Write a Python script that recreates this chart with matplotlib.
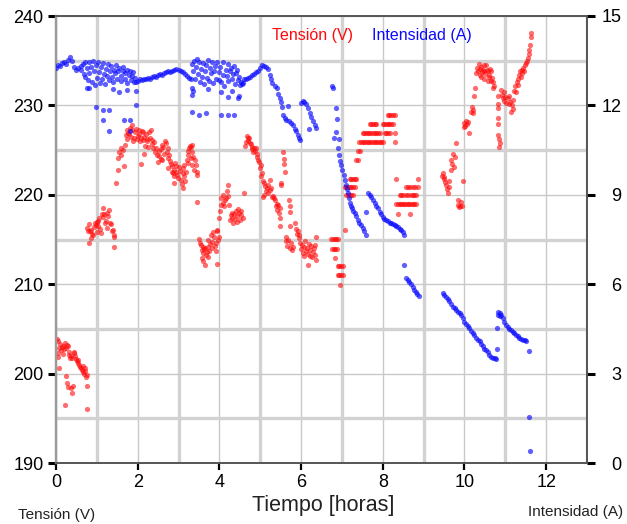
import matplotlib
matplotlib.use("Agg")
import matplotlib.pyplot as plt
from matplotlib.ticker import MultipleLocator

plt.rcParams["font.family"] = ["Liberation Sans", "DejaVu Sans"]

# ---- Tensión (V) vs tiempo (h) ----
tension_t = [
    0.02, 0.04, 0.06, 0.08, 0.10, 0.12, 0.14, 0.16, 0.18, 0.20, 0.22, 0.24, 0.27, 0.29, 0.31, 0.33,
    0.35, 0.37, 0.40, 0.43, 0.45, 0.47, 0.49, 0.51, 0.53, 0.55, 0.57, 0.59, 0.61, 0.63, 0.65, 0.67,
    0.69, 0.71, 0.72, 0.73, 0.75, 0.77, 0.07, 0.05, 0.24, 0.26, 0.29, 0.37, 0.39, 0.41, 0.23, 0.75,
    0.77, 0.79, 0.81, 0.83, 0.86, 0.88, 0.81, 0.90, 0.92, 0.95, 0.98, 1.00, 1.02, 1.04, 1.06, 1.08,
    1.10, 1.12, 1.14, 1.16, 1.18, 1.20, 1.22, 1.24, 1.26, 1.28, 1.30, 1.32, 1.34, 1.36, 1.39, 1.41,
    1.43, 1.43, 0.85, 1.00,
    1.47, 1.51, 1.51, 1.55, 1.59, 1.59, 1.63, 1.67, 1.69, 1.71, 1.73, 1.75, 1.77, 1.79, 1.81, 1.83,
    1.85, 1.87, 1.89, 1.92, 1.94, 1.96, 1.98, 2.00, 2.02, 2.04, 2.06, 2.08, 2.08, 2.10, 2.12, 2.14,
    2.16, 2.16, 2.18, 2.20, 2.22, 2.24, 2.26, 2.28, 2.30, 2.32, 2.34, 2.36, 2.38, 2.40, 2.43,
    2.45, 2.47, 2.49, 2.51, 2.53, 2.56, 2.58, 2.60, 2.60, 2.63, 2.65, 2.67, 2.69, 2.71, 2.73, 2.73,
    2.75, 2.77, 2.79, 2.81, 2.83, 2.85, 2.87, 2.89, 2.89, 2.89, 2.91, 2.93, 2.95, 2.97, 2.99, 3.02,
    3.04, 3.06, 3.08, 3.10, 3.10, 3.12, 3.14, 3.14, 3.16, 3.18, 3.20, 3.22, 3.22, 3.24, 3.26, 3.28,
    3.30, 3.30, 3.32, 3.34, 3.34, 3.36, 3.38, 3.40, 3.42, 3.44, 3.46, 3.46,
    3.50, 3.52, 3.55, 3.57, 3.59, 3.61, 3.63, 3.65, 3.67, 3.69, 3.71, 3.71, 3.73, 3.75, 3.77, 3.79,
    3.81, 3.83, 3.85, 3.87, 3.89, 3.91, 3.91, 3.93, 3.95, 3.95, 3.97, 3.99, 3.99, 4.01, 4.03, 4.05,
    4.08, 4.10, 4.12, 4.14, 4.16, 4.18, 4.20, 4.22, 4.24, 3.57, 3.61, 3.65,
    4.26, 4.28, 4.30, 4.32, 4.34, 4.36, 4.38, 4.40, 4.42, 4.44, 4.46, 4.48, 4.50, 4.52, 4.54, 4.57,
    4.60,
    4.63, 4.65, 4.67, 4.69, 4.71, 4.73, 4.75, 4.77, 4.79, 4.81, 4.83, 4.85, 4.87, 4.89, 4.91, 4.93,
    4.95, 4.97, 4.99, 5.01, 5.03, 5.05, 5.07, 5.07, 5.09, 5.10, 5.12, 5.15, 5.17, 5.18, 5.20, 5.23,
    5.25, 5.27, 5.29, 5.31,
    5.34, 5.36, 5.38, 5.40, 5.42, 5.44, 5.46, 5.48, 5.48, 5.48, 5.52, 5.52, 5.56, 5.57, 5.58, 5.60,
    5.62, 5.64, 5.66, 5.68, 5.70, 5.72, 5.72, 5.72, 5.74, 5.76, 5.78, 5.80, 5.86, 5.88, 5.90, 5.92,
    5.94, 5.96,
    5.98, 6.00, 6.02, 6.04, 6.06, 6.08, 6.10, 6.12, 6.14, 6.17, 6.17, 6.19, 6.21, 6.23, 6.25, 6.27,
    6.29, 6.31, 6.33, 6.35, 6.37, 6.37,
    6.74, 6.78, 6.82, 6.86, 6.90, 6.76, 6.80, 6.84, 6.88, 6.82, 6.90, 6.94, 6.98, 7.02, 6.90, 6.94,
    6.98, 7.02, 6.96, 7.07,
    7.11, 7.15, 7.19, 7.23, 7.27,
    7.07, 7.11, 7.15, 7.19, 7.23, 7.27, 7.31,
    7.19, 7.23, 7.27, 7.31, 7.35,
    7.35, 7.39, 7.39, 7.45,
    7.43, 7.47, 7.51, 7.55, 7.59, 7.63, 7.67, 7.71, 7.75, 7.80, 7.84, 7.88, 7.92, 7.96, 8.00, 8.29,
    7.51, 7.55, 7.59, 7.63, 7.67, 7.71, 7.75, 7.80, 7.84, 7.88, 7.92, 8.05, 8.09, 8.13, 8.17, 8.29,
    7.68, 7.72, 7.76, 7.80, 7.84, 8.00, 8.04, 8.08, 8.12, 8.16, 8.21, 8.25,
    8.12, 8.16, 8.21, 8.25, 8.29,
    8.37, 8.66,
    8.33, 8.37, 8.41, 8.45, 8.49, 8.53, 8.57, 8.61, 8.65, 8.69, 8.73, 8.77, 8.82,
    8.41, 8.45, 8.49, 8.57, 8.61, 8.69, 8.73, 8.77, 8.82,
    8.57, 8.61, 8.66, 8.74, 8.78, 8.86,
    8.33, 8.86,
    9.45, 9.47, 9.49, 9.51, 9.53, 9.55, 9.57, 9.59, 9.61, 9.63, 9.66, 9.68, 9.70, 9.72, 9.74, 9.76,
    9.80, 9.83, 9.85, 9.87, 9.89, 9.91, 9.93, 9.96,
    9.98, 10.00, 10.02, 10.04, 10.06, 10.08, 10.12, 10.16, 10.18, 10.20, 10.22, 10.24, 10.26, 10.29,
    10.31, 10.33, 10.35, 10.37, 10.39, 10.41, 10.41, 10.43, 10.45, 10.47, 10.49, 10.49, 10.51, 10.53,
    10.55, 10.57, 10.57, 10.59, 10.61, 10.63, 10.65, 10.65, 10.67, 10.69, 10.71, 10.73,
    10.81, 10.83, 10.81, 10.81, 10.83, 10.83, 10.84, 10.85, 10.87, 10.90, 10.92, 10.94, 10.96, 10.98,
    11.00, 11.02, 11.06, 11.08, 11.10, 11.12, 11.14, 11.16, 11.18, 11.20, 11.22, 11.24, 11.26, 11.28,
    11.30, 11.32, 11.34, 11.36, 11.38, 11.40, 11.42, 11.44, 11.46, 11.48, 11.51, 11.53, 11.55, 11.57,
    11.59, 11.60, 11.62, 11.63,
]
tension_v = [
    203.9, 203.6, 202.3, 202.9, 203.3, 202.6, 203.0, 203.1, 202.2, 202.7, 203.4, 202.9, 203.2, 203.1, 202.1, 202.4,
    201.8, 202.0, 201.7, 202.3, 202.4, 202.0, 201.6, 201.4, 201.2, 201.5, 201.0, 200.7, 200.6, 200.4, 200.2, 200.9,
    199.9, 200.3, 200.6, 199.6, 199.8, 198.6, 200.6, 201.9, 199.7, 198.9, 198.5, 198.4, 197.8, 198.6, 196.5, 196.0,
    216.3, 215.9, 216.7, 216.0, 216.1, 215.6, 214.6, 215.5, 216.4, 216.9, 216.6, 217.0, 217.1, 216.5, 217.4, 216.2,
    215.7, 217.9, 218.5, 217.5, 217.8, 216.8, 217.1, 218.0, 216.3, 217.6, 218.3, 216.9, 216.7, 215.9, 216.1, 215.3,
    215.5, 214.2, 215.2, 215.8,
    221.3, 222.8, 224.1, 224.8, 224.5, 225.2, 225.0, 223.2, 225.6, 226.7, 226.2, 227.2, 226.9, 226.8, 227.5, 226.5,
    227.8, 227.2, 226.0, 226.3, 227.0, 227.4, 226.2, 226.6, 227.3, 226.8, 226.0, 226.3, 223.5, 227.1, 227.0, 226.1,
    226.5, 224.6, 225.5, 226.8, 226.2, 226.0, 225.4, 227.0, 226.4, 227.2, 225.7, 226.1, 225.2, 225.9, 224.8,
    225.2, 224.4, 223.7, 224.9, 224.3, 225.1, 224.0, 225.6, 223.9, 225.3, 224.6, 226.0, 225.8, 224.8, 225.2, 224.1,
    223.0, 224.5, 223.8, 223.5, 222.6, 223.2, 222.4, 222.8, 222.1, 221.3, 223.6, 223.2, 222.5, 222.2, 221.9, 223.1,
    222.7, 221.7, 221.2, 223.0, 220.8, 222.4, 223.3, 222.1, 221.5, 222.6, 223.9, 224.5, 223.6, 224.9, 225.2, 225.5,
    225.4, 224.1, 224.8, 225.6, 223.3, 224.2, 222.8, 223.9, 223.3, 222.2, 222.6, 219.2,
    215.1, 214.6, 214.4, 213.8, 214.2, 213.5, 213.9, 214.1, 213.3, 213.6, 213.0, 214.9, 214.2, 213.7, 214.5, 215.5,
    214.0, 214.7, 215.8, 215.3, 214.3, 214.6, 213.7, 215.9, 216.1, 212.3, 215.0, 215.3, 217.4, 218.2, 218.9, 219.6,
    220.0, 219.1, 218.7, 219.4, 219.6, 220.4, 221.1, 219.9, 218.9, 212.9, 212.6, 212.2,
    217.2, 217.7, 218.0, 217.4, 216.9, 217.8, 217.3, 218.2, 217.0, 217.6, 218.4, 218.0, 217.2, 218.2, 217.7, 217.4,
    220.2,
    225.5, 225.9, 226.6, 226.4, 226.0, 226.3, 225.8, 225.7, 225.1, 225.4, 224.8, 225.2, 224.9, 225.2, 224.2, 224.6,
    223.9, 223.7, 223.0, 223.3, 222.1, 222.4, 221.5, 219.8, 221.3, 220.0, 221.0, 220.4, 220.8, 221.1, 220.2, 221.7,
    220.5, 220.8, 219.7, 219.9,
    219.6, 219.4, 218.7, 218.3, 219.0, 218.9, 218.0, 218.5, 217.4, 216.5, 221.1, 221.3, 224.8, 224.0, 223.5, 222.6,
    215.3, 214.8, 214.3, 215.0, 219.4, 218.8, 218.1, 216.5, 214.0, 214.6, 213.8, 214.2, 216.8, 216.2, 215.6, 215.9,
    215.2, 215.5,
    214.6, 213.9, 214.4, 213.5, 214.2, 213.1, 214.8, 213.7, 214.0, 212.1, 213.4, 214.5, 213.2, 213.8, 214.3, 213.0,
    213.6, 214.1, 214.4, 213.3, 215.3, 212.7,
    215.1, 215.1, 215.1, 215.1, 215.1, 213.9, 213.9, 213.9, 213.9, 212.9, 212.0, 212.0, 212.0, 212.0, 211.0, 211.0,
    211.0, 211.0, 209.9, 216.1,
    220.0, 220.0, 220.0, 220.0, 220.0,
    220.9, 220.9, 220.9, 220.9, 220.9, 220.9, 220.9,
    221.8, 221.8, 221.8, 221.8, 221.8,
    223.9, 223.9, 224.9, 224.9,
    225.9, 225.9, 225.9, 225.9, 225.9, 225.9, 225.9, 225.9, 225.9, 225.9, 225.9, 225.9, 225.9, 225.9, 225.9, 225.9,
    226.9, 226.9, 226.9, 226.9, 226.9, 226.9, 226.9, 226.9, 226.9, 226.9, 226.9, 226.9, 226.9, 226.9, 226.9, 226.9,
    227.9, 227.9, 227.9, 227.9, 227.9, 227.9, 227.9, 227.9, 227.9, 227.9, 227.9, 227.9,
    228.9, 228.9, 228.9, 228.9, 228.9,
    217.9, 217.9,
    219.0, 219.0, 219.0, 219.0, 219.0, 219.0, 219.0, 219.0, 219.0, 219.0, 219.0, 219.0, 219.0,
    220.0, 220.0, 220.0, 220.0, 220.0, 220.0, 220.0, 220.0, 220.0,
    220.9, 220.9, 220.9, 220.9, 220.9, 220.9,
    221.8, 221.8,
    222.1, 222.4, 221.8, 222.0, 221.4, 221.1, 220.6, 220.2, 220.9, 221.5, 222.8, 223.9, 223.4, 224.6, 223.1, 224.2,
    225.8, 219.4, 218.9, 218.6, 218.8, 219.2, 218.7, 221.5,
    227.6, 228.0, 227.7, 228.3, 227.9, 228.1, 226.9, 229.3, 229.8, 229.5, 229.1, 231.0, 232.0, 233.6,
    234.2, 233.9, 234.6, 233.4, 234.1, 234.3, 233.2, 233.7, 234.0, 234.5, 233.9, 233.0, 233.5, 234.5,
    234.0, 233.9, 232.7, 233.4, 233.2, 234.1, 233.8, 232.7, 233.1, 232.0, 232.6, 232.2,
    231.0, 230.2, 229.7, 228.6, 227.9, 226.7, 226.2, 225.4, 225.8, 231.7, 231.2, 230.8, 231.5, 230.5,
    230.9, 230.3, 230.8, 230.2, 231.0, 230.4, 229.3, 230.0, 229.6, 230.6, 231.6, 232.2, 231.5, 232.6,
    233.0, 232.3, 233.4, 233.9, 233.2, 234.0, 233.6, 234.2, 233.8, 234.5, 234.7, 235.0, 235.3, 235.8,
    236.2, 236.8, 237.7, 238.1,
]

# ---- Intensidad (A) vs tiempo (h) ----
intensidad_t = [
    0.00, 0.05, 0.10, 0.15, 0.20, 0.25, 0.30, 0.35, 0.40, 0.45, 0.50, 0.55, 0.60,
    0.62, 0.65, 0.68, 0.70, 0.72, 0.75, 0.78, 0.80, 0.82, 0.85, 0.88, 0.90, 0.92, 0.95, 0.97, 1.00,
    1.02, 1.05, 1.08, 1.10, 1.12, 1.15, 1.18, 1.20, 1.22, 1.25, 1.28, 1.30, 1.33, 1.35, 1.38, 1.40,
    1.43, 1.45, 1.48, 1.50, 1.53, 1.55, 1.58, 1.60, 1.63, 1.65, 1.68, 1.70, 1.73, 1.75, 1.78, 1.80,
    1.83, 1.85, 1.88, 1.90, 1.93,
    0.98, 1.14, 1.30, 1.14, 1.30, 1.66, 1.82, 1.96, 0.75, 0.80, 1.40, 1.55, 1.75, 1.96, 1.81,
    1.95, 2.00, 2.05, 2.10, 2.15, 2.20, 2.25, 2.30, 2.35, 2.40, 2.45, 2.50, 2.55, 2.60, 2.65, 2.70,
    2.75, 2.80, 2.85, 2.90, 2.95, 3.00, 3.05, 3.10, 3.15, 3.20, 3.25, 3.30,
    3.32, 3.35, 3.38, 3.40, 3.42, 3.45, 3.48, 3.50, 3.52, 3.55, 3.58, 3.60, 3.62, 3.65, 3.68, 3.70,
    3.72, 3.75, 3.78, 3.80, 3.82, 3.85, 3.88, 3.90, 3.92, 3.95, 3.98, 4.00, 4.02, 4.05, 4.08, 4.10,
    4.12, 4.15, 4.18, 4.20, 4.22, 4.25, 4.28, 4.30, 4.33, 4.35, 4.38, 4.40, 4.42, 4.45, 4.48, 4.50,
    4.52, 4.55, 4.57,
    3.34, 3.34, 3.50, 3.67, 4.03, 4.20, 4.36, 4.20, 4.49, 4.03, 3.34, 3.36, 3.72, 4.30, 4.45,
    4.60, 4.65, 4.70, 4.75, 4.80, 4.85, 4.90, 4.95, 5.00, 5.05, 5.10, 5.15, 5.18,
    5.23, 5.27, 5.30, 5.35, 5.40, 5.44, 5.48, 5.52, 5.54, 5.56, 5.60, 5.64, 5.68, 5.70, 5.75, 5.80,
    5.84, 5.88, 5.92, 5.95, 5.97,
    6.00, 6.04, 6.08, 6.13, 6.17, 6.21, 6.25, 6.29, 6.33, 6.37, 6.20,
    6.76, 6.79, 6.86, 6.88, 6.86, 6.80, 6.92, 6.90, 6.93, 6.95, 6.98, 7.01, 7.04, 7.07, 7.10, 7.12,
    7.14, 7.17, 7.19, 7.22, 7.25, 7.28, 7.31, 7.35, 7.39, 7.43, 7.47, 7.51, 7.55, 7.60, 7.60,
    7.64, 7.68, 7.72, 7.76, 7.80, 7.84, 7.88, 7.92, 7.96, 8.00, 8.04, 8.08, 8.12, 8.17, 8.21, 8.25,
    8.29, 8.33, 8.37, 8.41, 8.45, 8.49, 8.53,
    8.53, 8.57, 8.61, 8.65, 8.69, 8.73, 8.77, 8.81, 8.85, 8.88,
    9.47, 9.51, 9.55, 9.59, 9.63, 9.67, 9.72, 9.76, 9.80, 9.84, 9.88, 9.92, 9.96, 10.00, 10.04, 10.08,
    10.12, 10.16, 10.20, 10.24, 10.29, 10.33, 10.37, 10.41, 10.45, 10.49, 10.53, 10.57, 10.61, 10.65,
    10.70, 10.74, 10.78, 10.79, 10.79,
    10.81, 10.83, 10.86, 10.88, 10.90, 10.94, 10.98, 11.02, 11.06, 11.10, 11.14, 11.18, 11.22, 11.26,
    11.30, 11.34, 11.39, 11.43, 11.47, 11.51, 11.57,
    11.59, 11.61,
]
intensidad_a = [
    13.26, 13.35, 13.32, 13.41, 13.47, 13.38, 13.53, 13.62, 13.50, 13.29, 13.20, 13.26, 13.32,
    13.20, 13.38, 13.05, 13.47, 12.96, 13.26, 12.84, 13.44, 13.08, 13.29, 12.78, 13.50, 13.17, 12.69, 13.35, 12.93,
    13.47, 13.11, 12.75, 13.29, 12.90, 13.41, 13.05, 12.72, 13.23, 12.99, 13.38, 12.84, 13.17, 13.32, 12.96, 12.78,
    13.20, 13.08, 13.35, 12.87, 13.14, 13.26, 12.99, 12.81, 13.17, 13.29, 12.90, 13.08, 13.20, 12.75, 13.02, 13.14,
    12.84, 12.99, 13.11, 12.78, 12.93,
    11.94, 11.85, 11.85, 11.52, 11.13, 11.52, 11.52, 12.00, 12.57, 12.60, 12.54, 12.45, 12.51, 12.48, 11.13,
    12.78, 12.81, 12.87, 12.84, 12.90, 12.87, 12.93, 12.90, 12.96, 12.99, 12.96, 13.02, 13.05, 13.02, 13.08, 13.11,
    13.14, 13.11, 13.17, 13.20, 13.23, 13.20, 13.17, 13.11, 13.05, 12.99, 12.93, 12.87,
    13.38, 13.14, 13.50, 12.87, 13.29, 13.56, 13.05, 13.44, 12.78, 13.23, 12.96, 13.41, 12.72, 13.17, 13.35, 12.93,
    13.53, 12.81, 13.26, 13.08, 13.47, 12.75, 13.14, 13.32, 12.90, 13.44, 12.84, 13.11, 13.29, 12.78, 13.47, 13.02,
    12.66, 13.20, 12.99, 13.38, 12.81, 13.14, 13.26, 12.87, 13.05, 13.32, 12.72, 13.08, 13.20, 12.84, 12.96, 12.69,
    12.78, 12.72, 12.75,
    12.60, 11.79, 11.67, 11.73, 11.67, 11.67, 11.67, 12.27, 12.30, 12.45, 12.36, 12.48, 12.54, 12.48, 12.24,
    12.87, 12.90, 12.93, 12.96, 13.02, 13.05, 13.11, 13.17, 13.26, 13.35, 13.32, 13.29, 13.23,
    13.02, 12.87, 12.75, 12.66, 12.57, 12.39, 12.24, 12.12, 11.94, 11.67, 11.58, 11.52, 11.97, 11.46, 11.40, 11.34,
    11.22, 11.13, 11.01, 10.89, 10.83,
    12.09, 12.15, 12.12, 12.06, 11.91, 11.76, 11.61, 11.46, 11.34, 11.25, 11.22,
    12.66, 12.60, 11.91, 11.55, 11.10, 10.89, 10.86, 10.56, 10.35, 10.14, 9.99, 9.84, 9.66, 9.51, 9.33, 9.18,
    9.06, 8.88, 8.73, 8.64, 8.55, 8.46, 8.40, 8.28, 8.16, 8.07, 7.98, 7.89, 7.77, 7.65, 8.43,
    9.06, 9.00, 8.94, 8.82, 8.73, 8.64, 8.55, 8.43, 8.34, 8.25, 8.19, 8.16, 8.13, 8.07, 8.04, 8.01,
    7.98, 7.95, 7.92, 7.86, 7.83, 7.74, 7.65,
    6.63, 6.21, 6.15, 6.09, 6.00, 5.91, 5.82, 5.73, 5.67, 5.61,
    5.70, 5.64, 5.58, 5.52, 5.43, 5.34, 5.25, 5.19, 5.13, 5.07, 5.04, 4.98, 4.86, 4.74, 4.65, 4.59,
    4.53, 4.44, 4.35, 4.29, 4.20, 4.14, 4.08, 3.99, 3.93, 3.84, 3.78, 3.72, 3.63, 3.57,
    3.54, 3.51, 3.48, 4.53, 3.84,
    5.07, 4.95, 5.04, 4.92, 4.98, 4.86, 4.74, 4.62, 4.56, 4.50, 4.47, 4.41, 4.35, 4.29,
    4.26, 4.20, 4.17, 4.14, 4.14, 4.11, 3.75,
    1.56, 0.39,
]

x_ticks = [0, 2, 4, 6, 8, 10, 12]
v_ticks = [190, 200, 210, 220, 230, 240]
a_ticks = [0, 3, 6, 9, 12, 15]

RED = "#ff0a0a"
BLUE = "#0a0aff"
W, H = 627, 524

fig = plt.figure(figsize=(W / 100, H / 100), dpi=100)
ax = fig.add_axes([56 / W, 1 - 463 / H, (587 - 56) / W, (463 - 16) / H])
ax2 = ax.twinx()

ax.set_xlim(0, 13)
ax.set_ylim(190, 240)
ax2.set_ylim(0, 15)

# Grid: thin lines on the labelled values, wider ones half way between
ax.set_xticks(x_ticks)
ax.set_yticks(v_ticks)
ax.xaxis.set_minor_locator(MultipleLocator(1))
ax.yaxis.set_minor_locator(MultipleLocator(5))
ax.grid(which="major", color="#c9c9c9", lw=1.0)
ax.grid(which="minor", color="#d2d2d2", lw=2.4)
ax.set_axisbelow(True)
ax.tick_params(which="minor", length=0)

ax.scatter(tension_t, tension_v, s=14, color=RED, alpha=0.6, linewidths=0, zorder=3)
ax2.scatter(intensidad_t, intensidad_a, s=14, color=BLUE, alpha=0.65, linewidths=0, zorder=3)

ax.tick_params(axis="y", which="major", direction="out", length=6, width=2.2,
               labelsize=13, pad=3, color="black")
ax.tick_params(axis="x", which="major", direction="out", length=5, width=1.6,
               labelsize=13, pad=3, color="black")
ax2.set_yticks(a_ticks)
ax2.tick_params(axis="y", direction="out", length=6, width=2.2, labelsize=13, pad=19, color="black")
for lab in ax2.get_yticklabels():
    lab.set_horizontalalignment("right")

for a in (ax, ax2):
    for side in ("top", "bottom", "right"):
        a.spines[side].set_color("#555555")
        a.spines[side].set_linewidth(1.2)
    a.spines["left"].set_color("#9a9a9a")
    a.spines["left"].set_linewidth(1.6)

fig.text(323 / W, 1 - 511 / H, "Tiempo [horas]", ha="center", va="baseline", fontsize=15.5, color="#222222")
fig.text(18 / W, 1 - 519 / H, "Tensión (V)", ha="left", va="baseline", fontsize=11, color="#222222")
fig.text(623 / W, 1 - 516 / H, "Intensidad (A)", ha="right", va="baseline", fontsize=11, color="#222222")
fig.text(272 / W, 1 - 40 / H, "Tensión (V)", ha="left", va="baseline", fontsize=11.5, color=RED)
fig.text(372 / W, 1 - 40 / H, "Intensidad (A)", ha="left", va="baseline", fontsize=11.5, color=BLUE)

fig.savefig("out.png", dpi=100)
